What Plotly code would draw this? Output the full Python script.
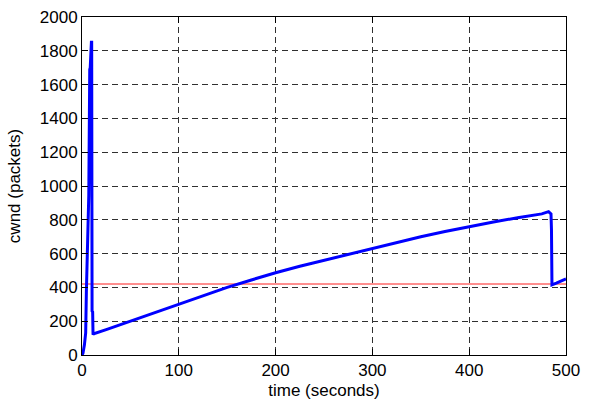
import plotly.graph_objects as go

# Congestion window trace (time in seconds, cwnd in packets)
time_s = [0, 1.0, 2.5, 3.8, 4.5, 6.6, 7.0, 8.0, 8.5, 9.7, 10.0, 10.4, 11.0, 11.4,
          12, 25, 50, 75, 100, 125, 150, 175, 200, 225, 250, 275, 300, 325,
          350, 375, 400, 425, 450, 475, 482, 484.5, 485, 485.5, 490, 500]
cwnd = [0, 10, 60, 130, 370, 940, 945, 1690, 1700, 1850, 1850, 260, 255, 120,
        125, 150, 200, 253, 302, 350, 400, 444, 487, 525, 560, 597, 632, 666,
        700, 731, 760, 787, 812, 835, 848, 835, 740, 415, 425, 450]

# Reference level (packets) drawn across the full time span
ref_level = 420
time_limits = [0, 500]

x_ticks = [0, 100, 200, 300, 400, 500]
y_ticks = [0, 200, 400, 600, 800, 1000, 1200, 1400, 1600, 1800, 2000]

FONT = "Liberation Sans, Arial, sans-serif"
FS = 17

fig = go.Figure()
fig.add_trace(go.Scatter(
    x=time_limits, y=[ref_level, ref_level], mode="lines",
    line=dict(color="#ff6a6a", width=1.5), hoverinfo="skip",
))
fig.add_trace(go.Scatter(
    x=time_s, y=cwnd, mode="lines",
    line=dict(color="#0000ff", width=3),
))

axis_common = dict(
    showline=True, linecolor="black", linewidth=1, mirror="allticks",
    ticks="inside", ticklen=6, tickcolor="black", tickwidth=1,
    showgrid=True, gridcolor="#303030", gridwidth=1, griddash="6px,4px",
    zeroline=False, tickfont=dict(family=FONT, size=FS, color="black"),
    automargin=False,
)

fig.update_xaxes(
    range=time_limits, tickvals=x_ticks, ticktext=[str(v) for v in x_ticks],
    title=dict(text="time (seconds)", font=dict(family=FONT, size=FS, color="black"), standoff=4),
    **axis_common,
)
fig.update_yaxes(
    range=[0, 2000], tickvals=y_ticks, ticktext=[str(v) for v in y_ticks],
    title=dict(text="cwnd (packets)", font=dict(family=FONT, size=FS, color="black"), standoff=14),
    **axis_common,
)

fig.update_layout(
    width=607, height=406,
    margin=dict(l=82, r=41, t=17, b=51),
    paper_bgcolor="white", plot_bgcolor="white",
    showlegend=False,
    font=dict(family=FONT, color="black"),
)

fig.write_html("out.html")
